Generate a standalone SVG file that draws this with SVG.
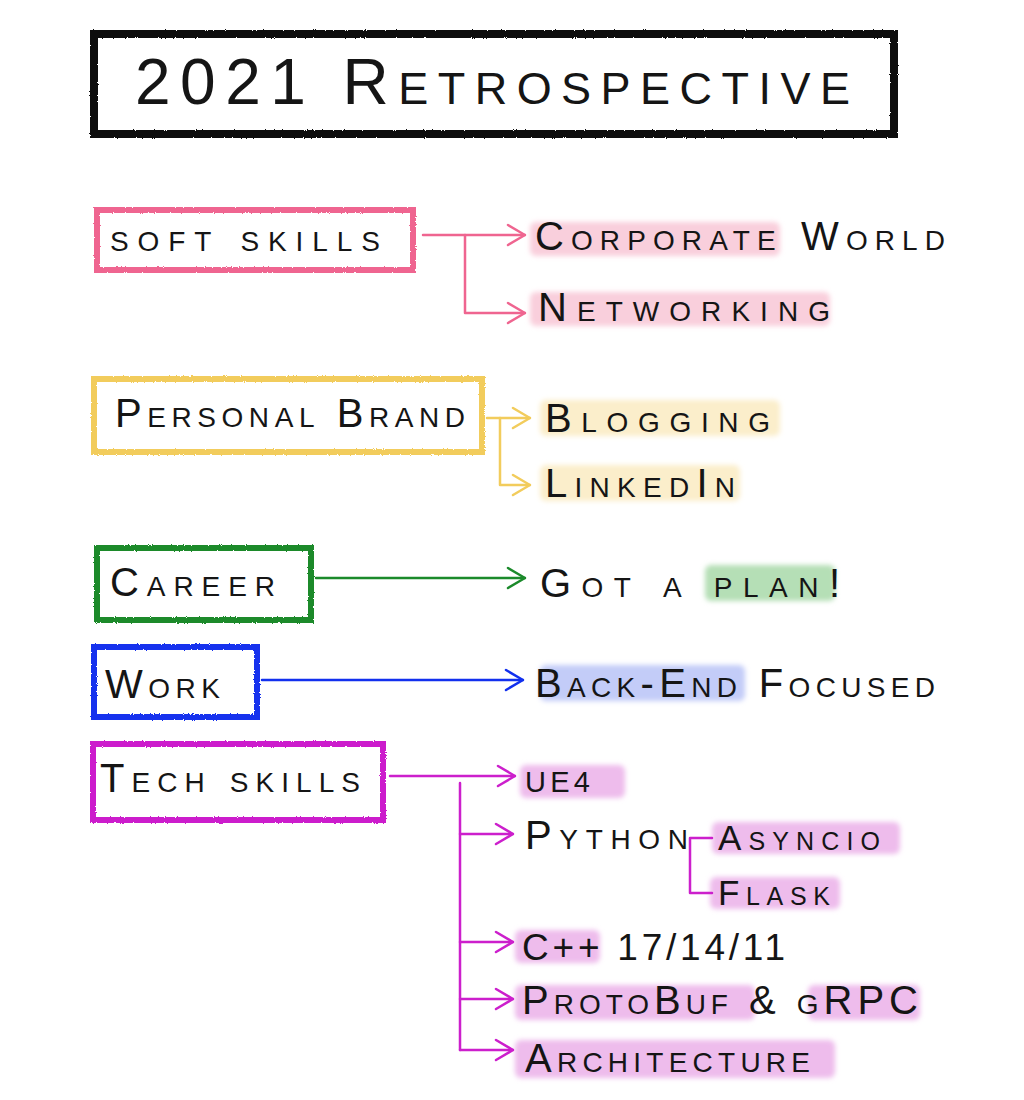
<svg xmlns="http://www.w3.org/2000/svg" width="1024" height="1100" viewBox="0 0 1024 1100">
<style>
.t{font-family:"Liberation Sans","DejaVu Sans",sans-serif;font-variant:small-caps;fill:#151515;font-size:40px}
.box{fill:#fff;stroke-width:6}
.c{fill:none;stroke-width:2.5;stroke-linecap:round;stroke-linejoin:round}
.hl{filter:url(#soft)}
</style>
<defs>
<filter id="rough" x="-5%" y="-5%" width="110%" height="110%">
<feTurbulence type="fractalNoise" baseFrequency="0.9" numOctaves="2" seed="3"/>
<feDisplacementMap in="SourceGraphic" scale="2.5"/>
</filter>
<filter id="soft" x="-10%" y="-30%" width="120%" height="160%">
<feGaussianBlur stdDeviation="2.5"/>
</filter>
<marker id="aP" viewBox="0 0 20 24" refX="19" refY="12" markerWidth="20" markerHeight="24" markerUnits="userSpaceOnUse" orient="auto"><path d="M2,2 L19,12 L2,22" fill="none" stroke="#ef6590" stroke-width="2.5" stroke-linecap="round"/></marker>
<marker id="aY" viewBox="0 0 20 24" refX="19" refY="12" markerWidth="20" markerHeight="24" markerUnits="userSpaceOnUse" orient="auto"><path d="M2,2 L19,12 L2,22" fill="none" stroke="#f2cc5c" stroke-width="2.5" stroke-linecap="round"/></marker>
<marker id="aG" viewBox="0 0 20 24" refX="19" refY="12" markerWidth="20" markerHeight="24" markerUnits="userSpaceOnUse" orient="auto"><path d="M2,2 L19,12 L2,22" fill="none" stroke="#1b8a2b" stroke-width="2.5" stroke-linecap="round"/></marker>
<marker id="aB" viewBox="0 0 20 24" refX="19" refY="12" markerWidth="20" markerHeight="24" markerUnits="userSpaceOnUse" orient="auto"><path d="M2,2 L19,12 L2,22" fill="none" stroke="#1230ee" stroke-width="2.5" stroke-linecap="round"/></marker>
<marker id="aM" viewBox="0 0 20 24" refX="19" refY="12" markerWidth="20" markerHeight="24" markerUnits="userSpaceOnUse" orient="auto"><path d="M2,2 L19,12 L2,22" fill="none" stroke="#cc1fcc" stroke-width="2.5" stroke-linecap="round"/></marker>
</defs>
<rect width="1024" height="1100" fill="#fff"/>

<g id="highlights">
<rect class="hl" x="530" y="222" width="250" height="34" rx="6" fill="#f9cfdc"/>
<rect class="hl" x="530" y="292" width="300" height="34" rx="6" fill="#f9cfdc"/>
<rect class="hl" x="540" y="400" width="240" height="36" rx="6" fill="#fbeecb"/>
<rect class="hl" x="540" y="465" width="200" height="36" rx="6" fill="#fbeecb"/>
<rect class="hl" x="705" y="565" width="130" height="36" rx="6" fill="#b5dfb6"/>
<rect class="hl" x="540" y="665" width="205" height="36" rx="6" fill="#c3ccf8"/>
<rect class="hl" x="520" y="765" width="105" height="33" rx="6" fill="#eebcec"/>
<rect class="hl" x="712" y="822" width="188" height="32" rx="6" fill="#eebcec"/>
<rect class="hl" x="710" y="877" width="130" height="32" rx="6" fill="#eebcec"/>
<rect class="hl" x="515" y="930" width="85" height="33" rx="6" fill="#eebcec"/>
<rect class="hl" x="515" y="985" width="240" height="35" rx="6" fill="#eebcec"/>
<rect class="hl" x="808" y="985" width="112" height="35" rx="6" fill="#eebcec"/>
<rect class="hl" x="515" y="1040" width="320" height="38" rx="6" fill="#eebcec"/>
</g>

<g id="title">
<rect x="94" y="34" width="800" height="100" fill="#fff" stroke="#111" stroke-width="8" filter="url(#rough)"/>
<text class="t" x="135" y="104" style="font-size:64px" textLength="715" lengthAdjust="spacing">2021 Retrospective</text>
</g>

<g id="connectors">
<path class="c" stroke="#ef6590" d="M423,235 H525" marker-end="url(#aP)"/>
<path class="c" stroke="#ef6590" d="M465,235 V313 H525" marker-end="url(#aP)"/>
<path class="c" stroke="#f2cc5c" d="M487,418 H530" marker-end="url(#aY)"/>
<path class="c" stroke="#f2cc5c" d="M500,418 V485 H530" marker-end="url(#aY)"/>
<path class="c" stroke="#1b8a2b" d="M316,578 H525" marker-end="url(#aG)"/>
<path class="c" stroke="#1230ee" d="M262,680 H523" marker-end="url(#aB)"/>
<path class="c" stroke="#cc1fcc" d="M390,776 H515" marker-end="url(#aM)"/>
<path class="c" stroke="#cc1fcc" d="M460,783 V1050"/>
<path class="c" stroke="#cc1fcc" d="M460,834 H513" marker-end="url(#aM)"/>
<path class="c" stroke="#cc1fcc" d="M460,942 H513" marker-end="url(#aM)"/>
<path class="c" stroke="#cc1fcc" d="M460,999 H513" marker-end="url(#aM)"/>
<path class="c" stroke="#cc1fcc" d="M460,1050 H513" marker-end="url(#aM)"/>
<path class="c" stroke="#cc1fcc" d="M712,838 H690 V893 H712"/>
</g>

<g id="soft-skills">
<rect class="box" x="97" y="210" width="316" height="60" stroke="#ef6590" filter="url(#rough)"/>
<text class="t" x="110" y="251" textLength="270" lengthAdjust="spacing">soft skills</text>
</g>
<g id="corporate-world"><text class="t" x="535" y="250" textLength="410" lengthAdjust="spacing">Corporate World</text></g>
<g id="networking"><text class="t" x="538" y="321" textLength="292" lengthAdjust="spacing">Networking</text></g>

<g id="personal-brand">
<rect class="box" x="94" y="379" width="388" height="73" stroke="#f2cc5c" filter="url(#rough)"/>
<text class="t" x="115" y="427" textLength="350" lengthAdjust="spacing">Personal Brand</text>
</g>
<g id="blogging"><text class="t" x="545" y="432" textLength="225" lengthAdjust="spacing">Blogging</text></g>
<g id="linkedin"><text class="t" x="545" y="497" textLength="190" lengthAdjust="spacing">LinkedIn</text></g>

<g id="career">
<rect class="box" x="97" y="548" width="214" height="72" stroke="#1b8a2b" filter="url(#rough)"/>
<text class="t" x="110" y="596" textLength="165" lengthAdjust="spacing">Career</text>
</g>
<g id="got-a-plan"><text class="t" x="540" y="597" textLength="300" lengthAdjust="spacing">Got a plan!</text></g>

<g id="work">
<rect class="box" x="94" y="647" width="163" height="70" stroke="#1230ee" filter="url(#rough)"/>
<text class="t" x="105" y="698" textLength="115" lengthAdjust="spacing">Work</text>
</g>
<g id="back-end"><text class="t" x="535" y="697" textLength="400" lengthAdjust="spacing">Back-End Focused</text></g>

<g id="tech-skills">
<rect class="box" x="93" y="744" width="290" height="76" stroke="#cc1fcc" filter="url(#rough)"/>
<text class="t" x="100" y="792" textLength="260" lengthAdjust="spacing">Tech skills</text>
</g>
<g id="ue4"><text class="t" x="525" y="792" style="font-size:29px" textLength="65" lengthAdjust="spacing">UE4</text></g>
<g id="python"><text class="t" x="525" y="849" textLength="163" lengthAdjust="spacing">Python</text></g>
<g id="asyncio"><text class="t" x="718" y="850" style="font-size:35px" textLength="162" lengthAdjust="spacing">Asyncio</text></g>
<g id="flask"><text class="t" x="718" y="905" style="font-size:35px" textLength="112" lengthAdjust="spacing">Flask</text></g>
<g id="cpp"><text class="t" x="522" y="960" style="font-size:37px" textLength="263" lengthAdjust="spacing">C++ 17/14/11</text></g>
<g id="protobuf"><text class="t" x="522" y="1014" textLength="396" lengthAdjust="spacing">ProtoBuf &amp; gRPC</text></g>
<g id="architecture"><text class="t" x="525" y="1072" textLength="285" lengthAdjust="spacing">Architecture</text></g>
</svg>
